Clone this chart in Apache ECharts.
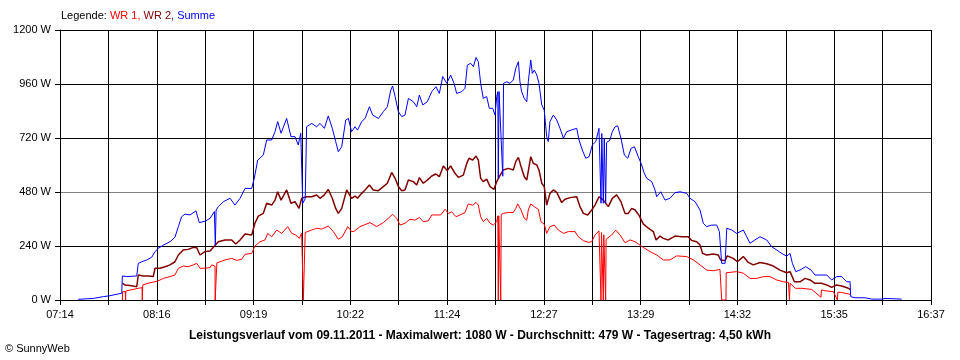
<!DOCTYPE html>
<html><head><meta charset="utf-8">
<script src="https://cdn.jsdelivr.net/npm/echarts@6/dist/echarts.min.js"></script>
<style>html,body{margin:0;padding:0;background:#fff}#c{width:960px;height:360px}</style>
</head><body><div id="c"></div>
<script>
// x values: minutes after 07:14 ; y values: Watt
const xTickLabels = ['07:14','08:16','09:19','10:22','11:24','12:27','13:29','14:32','15:35','16:37'];
const yTickLabels = ['0 W','240 W','480 W','720 W','960 W','1200 W'];
const xSpan = 563;       // 07:14 -> 16:37 in minutes
const xGridCount = 18;   // vertical grid lines interval count

const sumT = [11.8,21.5,28,32.3,37.7,39.9,40.3,43.1,49.6,50.6,52.8,56,59.3,61.4,63.6,66.8,71.1,74.3,76.5,78.6,80.8,84,87.9,90,93.7,97,99.8,100.4,100.9,102.3,105.6,109.9,113.1,116.4,119.6,123.9,125.6,127.8,131.4,133.6,136.8,139,140.7,142.9,146.5,149.3,151.9,154,155.6,156.9,158.5,159.4,162.7,165.9,168.1,170.9,173.4,176,178.2,179.9,182.1,184.7,186.4,188.5,190.7,192.3,195,197.2,200,202.1,205.8,209,211.6,213.8,215,216.6,218.7,220.9,223,225.2,228.4,230.6,232.3,234.5,237.4,240.3,243,245.2,247.4,250,252.5,254.7,256.4,259.7,261.8,263.3,265.5,267.2,268.9,270.4,271.9,273.6,275.8,277.5,279.7,281.2,282.3,283,283.3,283.8,286.2,286.7,288.7,290.9,293,294.6,296.3,297.3,298.4,300.1,301.7,302.7,304.3,305.3,306.6,308.2,309.6,311.4,313,314.6,315.6,316.7,318.9,321.1,323.2,325.4,327.5,330.8,334,335.5,337.6,339.8,342,344.1,346.3,348.4,349.7,350.2,351.2,351.8,352.7,353.3,355.5,357,358.8,360.5,362.6,364.8,367,369.1,371.3,373.8,376,377.5,379.2,382.5,384.6,385.7,388.3,391.1,394.3,397.5,400.8,405.1,407.2,410.5,413.7,415.8,418,421.2,424.5,426.2,427.7,429.9,431,434.2,437.4,441.7,443.9,446,449.2,452.5,456.8,460,463.3,466.5,469.7,471.9,473.4,475.6,478.3,482,485.5,488,492.4,495.6,498.8,502,505.3,508.5,510.7,511.1,513.9,520.3,524.7,531.1,533.3,544.1];
const sumW = [3,7,15,19,27,30,107,104,107,163,170,178,190,215,230,244,259,279,326,370,382,378,396,344,350,363,393,244,400,415,437,452,422,452,496,496,541,622,644,711,711,748,793,741,807,726,726,689,741,430,450,770,785,770,785,763,818,763,704,659,681,800,807,748,770,755,793,807,859,822,807,837,859,933,951,904,837,815,822,896,881,859,911,867,881,926,948,918,993,963,1000,963,918,926,941,1044,1052,1037,1078,1059,963,896,904,852,852,822,904,926,541,926,550,963,970,963,978,1030,1059,970,926,896,881,970,1067,1007,1022,1000,963,867,844,726,704,793,822,800,763,719,748,756,763,711,667,630,637,689,704,763,430,740,430,720,430,700,711,748,770,774,719,644,630,674,681,637,600,566,541,526,489,459,481,444,452,477,481,474,452,437,400,341,326,333,333,304,163,163,319,311,296,311,281,252,267,281,267,237,222,207,195,207,163,126,133,148,133,111,111,111,89,104,104,81,81,15,10,10,4,4,7,4];

const wr2T = [40.3,42,45.2,49.6,50.6,53.8,57.1,60.3,61.4,64.6,67.9,71.1,74.3,76.5,79.7,82.9,86.2,88.4,90.5,93.7,97,98,102.3,106.7,111,113.6,116.4,119.6,123.9,126,128.2,131.4,133.6,136.8,139,140.7,142.9,146.5,149.3,151.9,154.5,156.2,159.4,162.7,165.9,168.1,170.9,173.4,176,178.2,179.9,182.1,185.3,188.5,190.7,192.3,195,197.2,200,202.5,205.8,209,211.6,214.4,216.6,218.7,220.9,223,225.2,228.4,230.6,232.3,234.8,237.4,240.3,243,245.2,247.8,250.3,252.5,255.3,257.5,260.7,262.9,264.4,266.8,268.9,270.4,271.9,273.6,275.8,278,280.5,282.3,284,286.5,289.8,293,294.6,296.3,298,300.1,301.7,303.2,304.3,306,308.2,309.6,311.4,313,314.6,315.6,316.7,318.9,321.1,324.3,326.4,329.7,334,336.1,338.3,341.1,343.7,345.8,348.4,351.2,354.4,357,359.8,362.6,365.2,367.3,369.5,371.7,374.3,377,380.3,383.5,385.3,387.8,390,393.2,397.5,401.9,406.1,408.3,411.6,413.7,415.4,418,422.3,425.5,427,429.9,431.3,435.2,437.8,441.7,444.9,448.1,452.5,456.8,461.1,465.4,469.7,471.9,474.7,478.3,481.6,484.8,488,492.4,495.6,498.8,502,505.3,509.6,510.7];
const wr2W = [74,67,64,59,111,107,107,104,141,141,148,156,170,200,222,225,234,232,200,215,218,222,259,267,267,249,267,293,289,341,373,385,430,422,444,481,444,489,430,437,407,452,459,459,467,452,467,492,452,407,385,407,489,452,462,452,474,489,511,489,486,504,519,567,541,504,486,489,533,526,511,544,519,533,551,560,548,596,575,596,563,545,555,607,630,622,640,622,541,526,537,504,492,526,548,578,585,578,615,634,593,548,533,593,637,607,600,578,519,504,422,415,474,489,478,433,448,455,459,415,385,378,400,422,459,444,415,452,467,437,385,385,407,400,376,338,319,304,267,284,274,267,284,281,281,264,259,244,207,200,204,200,178,175,196,185,170,193,167,156,167,161,151,133,121,126,81,81,96,89,74,74,67,56,67,62,52,47];

const wr1T = [40.3,40.5,42.2,42.4,42.6,45.2,50.6,53,53.2,53.5,58.2,61.4,63.1,66.8,71.1,74.3,76.5,79.7,82.9,86.2,88.4,90.5,93.7,97,98,100.2,100.3,101.3,101.4,103.4,106.7,111,114.2,117.4,119.6,123.9,126,129.3,132.5,134.3,136.8,140.1,143.3,147.2,149.8,152.4,154.7,156.2,157.2,157.3,158.4,158.5,159.4,162.7,165.9,169.2,173.4,176.7,179.9,182.5,186,188.5,190,193.9,200.4,204.7,209,212.2,215,217.6,219.8,223,226.2,229.5,232.3,234.8,238.1,240.3,243.9,246.1,248.9,251,253.2,256,258.6,261.8,263.9,266.8,268.9,270.4,271.9,273.6,275.8,278,280.1,282.3,283,283.3,283.6,284.9,285.2,286.5,289.8,293,294.6,295.9,298,300.1,301.7,302.7,304.3,306.6,309.2,310.9,313,314.6,316.7,319.5,322.1,325.4,328.6,332.9,335,338.3,341.5,343.7,345.8,348.4,349.7,350,351.2,351.5,352.7,353,354,356.6,359.2,362,365.2,368.5,371.7,374.9,377,381.4,385.7,390,394.3,398.6,405.1,409.4,413.7,418,422.3,426.6,427.6,427.7,430.5,430.6,431.3,437.4,441.7,446,450.4,454.6,458.9,463.3,467.6,470.9,471.5,471.9,473,475.3,479.4,485.9,491.9,492.2,494.5,499.9,502.5,502.8,505.3,509.6,511.1];
const wr1W = [0,37,37,0,40,44,52,55,0,67,77,81,84,96,104,111,141,151,148,156,163,141,141,144,156,150,0,0,165,170,178,185,176,181,203,207,240,259,267,296,281,311,296,326,296,289,274,296,296,0,0,300,304,311,319,315,329,304,270,281,326,304,305,326,344,326,344,363,381,363,333,341,359,355,367,348,352,378,378,378,403,385,392,370,378,389,427,421,434,422,370,348,363,341,333,348,374,0,374,0,380,385,389,389,407,427,400,363,355,400,427,415,403,348,337,296,326,333,311,296,304,304,281,264,256,259,289,307,0,300,0,290,0,270,264,289,311,289,255,267,259,244,234,215,200,178,178,196,193,178,156,133,130,136,136,0,0,121,121,126,119,96,96,104,104,89,81,78,0,74,71,52,52,47,12,45,41,37,0,35,33,27,25];

const FONT = 'Liberation Sans, Arial, sans-serif';
const zip = (t, w) => t.map((v, i) => [v, w[i]]);
const xInt = xSpan / xGridCount;

const chart = echarts.init(document.getElementById('c'), null, {renderer: 'canvas'});
chart.setOption({
  animation: false,
  backgroundColor: '#fff',
  textStyle: {fontFamily: FONT},
  title: [
    {left: 61, top: 10, padding: 0,
     text: '{a|Legende: }{r|WR 1, }{d|WR 2, }{b|Summe}',
     textStyle: {fontWeight: 'normal', fontSize: 11, rich: {
       a: {color: '#000', fontSize: 11, fontWeight: 'normal', fontFamily: FONT},
       r: {color: '#ff0000', fontSize: 11, fontWeight: 'normal', fontFamily: FONT},
       d: {color: '#800000', fontSize: 11, fontWeight: 'normal', fontFamily: FONT},
       b: {color: '#0000ff', fontSize: 11, fontWeight: 'normal', fontFamily: FONT}}}},
    {left: 'center', top: 330, padding: 0,
     text: 'Leistungsverlauf vom 09.11.2011 - Maximalwert: 1080 W - Durchschnitt: 479 W - Tagesertrag: 4,50 kWh',
     textStyle: {color: '#000', fontSize: 12, fontWeight: 'bold', fontFamily: FONT}},
    {left: 5, top: 343, padding: 0, text: '© SunnyWeb',
     textStyle: {color: '#000', fontSize: 11, fontWeight: 'normal', fontFamily: FONT}}
  ],
  grid: {left: 60, right: 29, top: 30, bottom: 60, containLabel: false},
  xAxis: {
    type: 'value', min: 0, max: xSpan, interval: xInt,
    axisLine: {show: true, lineStyle: {color: '#000', width: 1}},
    axisTick: {show: true, length: 5, lineStyle: {color: '#000'}},
    axisLabel: {margin: 9, color: '#000', fontSize: 11, fontFamily: FONT,
      formatter: v => { const k = Math.round(v / xInt); return k % 2 === 0 ? (xTickLabels[k / 2] || '') : ''; }},
    splitLine: {show: true, lineStyle: {color: '#000', width: 1}}
  },
  yAxis: {
    type: 'value', min: 0, max: 1200, interval: 240,
    axisLine: {show: true, lineStyle: {color: '#000', width: 1}},
    axisTick: {show: true, length: 5, lineStyle: {color: '#000'}},
    axisLabel: {margin: 9, color: '#000', fontSize: 11, fontFamily: FONT,
      formatter: v => yTickLabels[Math.round(v / 240)]},
    splitLine: {show: true, lineStyle: {color: ['#000', '#000', '#808080', '#000', '#000', '#000'], width: 1}}
  },
  series: [
    {name: 'WR 1', type: 'line', data: zip(wr1T, wr1W), showSymbol: false, symbol: 'none',
     lineStyle: {color: '#ff0000', width: 1}, itemStyle: {color: '#ff0000'}, z: 2},
    {name: 'WR 2', type: 'line', data: zip(wr2T, wr2W), showSymbol: false, symbol: 'none',
     lineStyle: {color: '#800000', width: 1.5}, itemStyle: {color: '#800000'}, z: 3},
    {name: 'Summe', type: 'line', data: zip(sumT, sumW), showSymbol: false, symbol: 'none',
     lineStyle: {color: '#0000ff', width: 1}, itemStyle: {color: '#0000ff'}, z: 4}
  ]
});
</script></body></html>
